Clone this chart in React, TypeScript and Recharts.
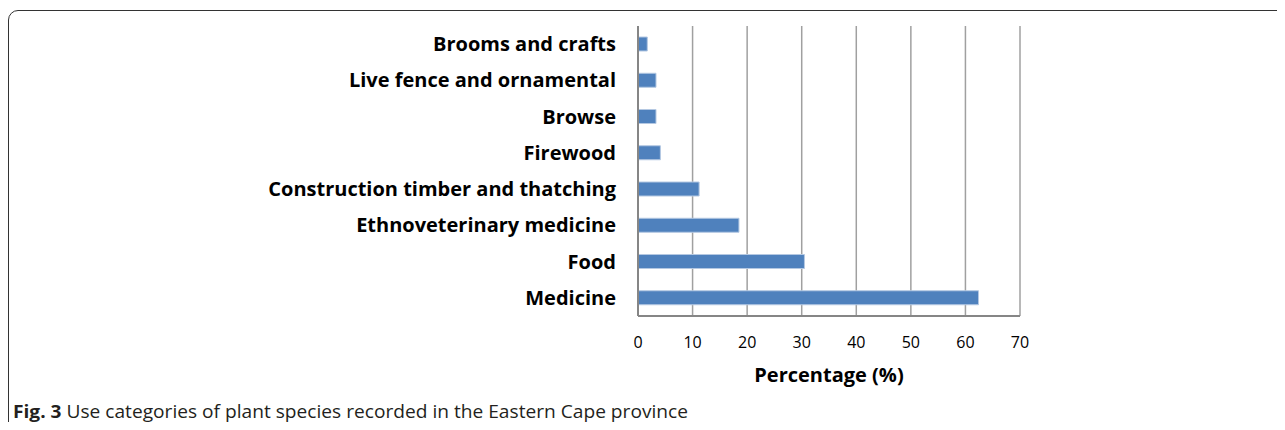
import React from 'react';
import { BarChart, Bar, XAxis, YAxis, CartesianGrid } from 'recharts';

const categories = [
  'Brooms and crafts',
  'Live fence and ornamental',
  'Browse',
  'Firewood',
  'Construction timber and thatching',
  'Ethnoveterinary medicine',
  'Food',
  'Medicine',
];
const percentages = [1.7, 3.3, 3.3, 4.1, 11.2, 18.5, 30.5, 62.4];
const xTicks = [0, 10, 20, 30, 40, 50, 60, 70];

const data = categories.map((name, i) => ({ name, value: percentages[i] }));

export default function App() {
  return (
    <div style={{ position: 'relative', margin: -8, width: 1285, height: 430, overflow: 'hidden', background: '#fff' }}>
      <div
        style={{
          position: 'absolute',
          left: 8,
          top: 10,
          width: 1300,
          height: 420,
          border: '1.5px solid #333',
          borderRadius: 10,
        }}
      />
      <div style={{ position: 'absolute', left: 0, top: 0 }}>
        <BarChart
          width={1060}
          height={400}
          data={data}
          layout="vertical"
          margin={{ top: 26, right: 40, bottom: 0, left: 0 }}
        >
          <CartesianGrid horizontal={false} stroke="#a0a0a0" strokeWidth={1.5} />
          <XAxis
            type="number"
            domain={[0, 70]}
            ticks={xTicks}
            interval={0}
            height={84}
            tickSize={0}
            tickMargin={21}
            axisLine={{ stroke: '#868686', strokeWidth: 2 }}
            tick={{ fill: '#000', fontSize: 16, fontFamily: 'Open Sans' }}
            label={{
              value: 'Percentage (%)',
              position: 'insideBottom',
              offset: 18,
              fill: '#000',
              fontSize: 20,
              fontWeight: 'bold',
              fontFamily: 'Open Sans',
            }}
          />
          <YAxis
            type="category"
            dataKey="name"
            width={638}
            tickSize={0}
            tickMargin={22}
            interval={0}
            axisLine={{ stroke: '#868686', strokeWidth: 2 }}
            tick={{ fill: '#000', fontSize: 20, fontWeight: 'bold', fontFamily: 'Open Sans' }}
          />
          <Bar
            dataKey="value"
            fill="#4f81bd"
            stroke="#b4c8e2"
            strokeWidth={1}
            barSize={14}
            isAnimationActive={false}
          />
        </BarChart>
      </div>
      <svg style={{ position: 'absolute', left: 0, top: 0 }} width={1285} height={430}>
        <text x={13} y={418} fontFamily="Open Sans" fontSize={17.5} fill="#231f20" textLength={675} lengthAdjust="spacingAndGlyphs">
          <tspan fontWeight="bold">Fig. 3</tspan>
          <tspan> Use categories of plant species recorded in the Eastern Cape province</tspan>
        </text>
      </svg>
    </div>
  );
}
